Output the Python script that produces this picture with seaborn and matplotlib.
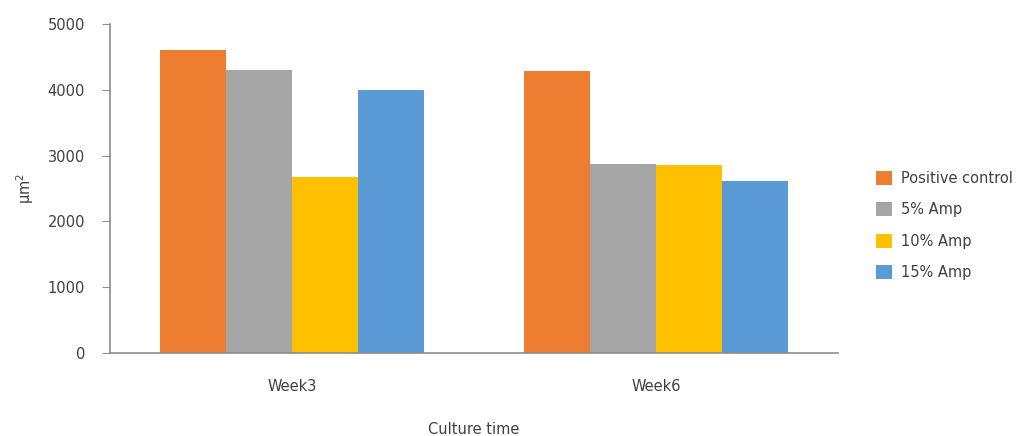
import matplotlib
matplotlib.use("Agg")
import matplotlib.pyplot as plt
import seaborn as sns
import pandas as pd
from matplotlib.patches import Patch

weeks = ["Week3", "Week6"]
groups = ["Positive control", "5% Amp", "10% Amp", "15% Amp"]
positive_control = [4600, 4280]
amp5 = [4300, 2870]
amp10 = [2680, 2850]
amp15 = [4000, 2620]
colors = ["#ED7D31", "#A5A5A5", "#FFC000", "#5B9BD5"]

rows = []
for g, vals in zip(groups, [positive_control, amp5, amp10, amp15]):
    for w, v in zip(weeks, vals):
        rows.append({"week": w, "group": g, "value": v})
df = pd.DataFrame(rows)

sns.set_style("white")
plt.rcParams["font.family"] = ["DejaVu Sans"]
txt = "#404040"

fig = plt.figure(figsize=(10.22, 4.36), dpi=100)
ax = fig.add_axes([110/1022, 1-353/436, (838-110)/1022, (353-24)/436])
sns.barplot(data=df, x="week", y="value", hue="group", hue_order=groups,
            palette=colors, width=0.725, saturation=1, ax=ax, legend=False,
            edgecolor="none", linewidth=0)
ax.set_xlim(-0.5, 1.5)
ax.set_ylim(0, 5000)
ax.set_yticks([0, 1000, 2000, 3000, 4000, 5000])
for s in ["top", "right"]:
    ax.spines[s].set_visible(False)
for s in ["left", "bottom"]:
    ax.spines[s].set_color("#8c8c8c")
    ax.spines[s].set_linewidth(1.2)
ax.tick_params(axis="y", direction="out", length=6, color="#8c8c8c", labelsize=10.5,
               labelcolor=txt, pad=12, left=True)
ax.tick_params(axis="x", length=0, labelsize=10.5, labelcolor=txt, pad=19)
ax.set_xlabel("Culture time", fontsize=10.5, color=txt, labelpad=20)
ax.set_ylabel("μm$^2$", fontsize=10.5, color=txt, labelpad=8)

handles = [Patch(facecolor=c, edgecolor="none") for c in colors]
fig.legend(handles, groups, loc="upper left", bbox_to_anchor=(863/1022, 1-158/436),
           frameon=False, fontsize=10.5, labelcolor=txt, handlelength=1.1,
           handleheight=1.1, labelspacing=1.12, handletextpad=0.6)

fig.savefig("out.png", dpi=100)
